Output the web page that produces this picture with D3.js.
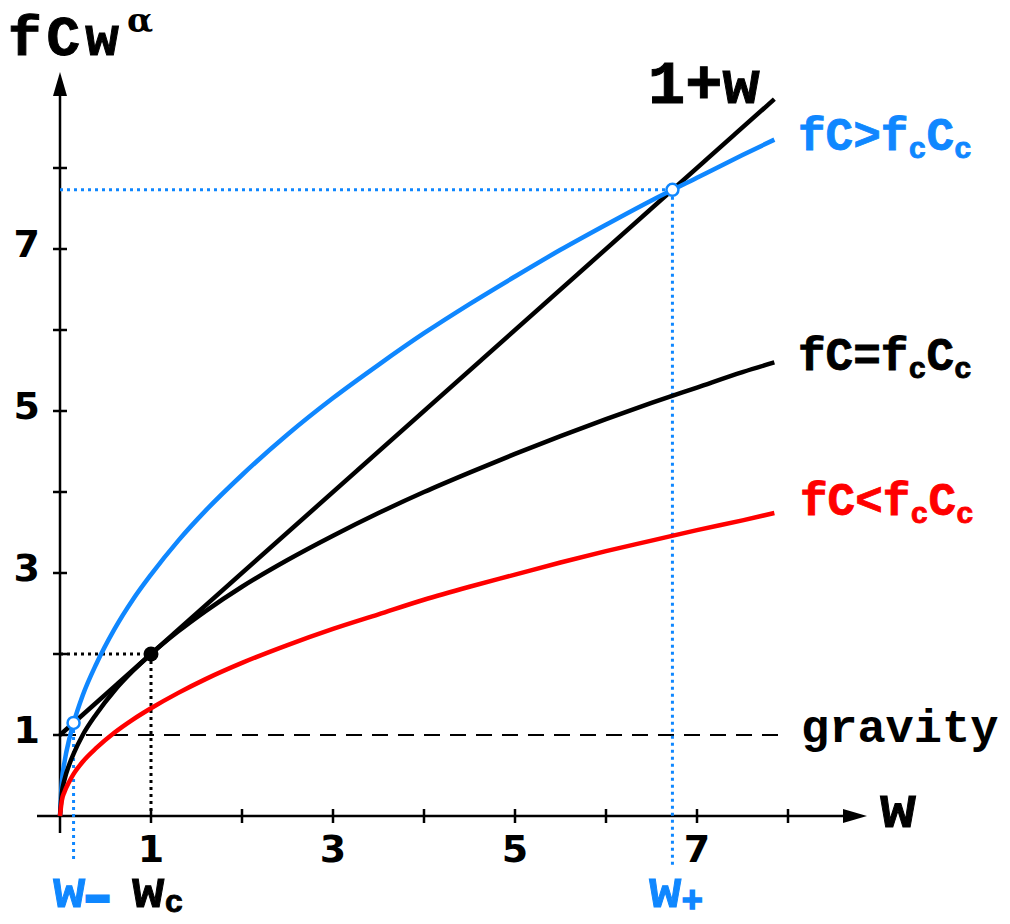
<!DOCTYPE html>
<html>
<head>
<meta charset="utf-8">
<script src="https://cdn.jsdelivr.net/npm/d3@7"></script>
<style>
  html, body { margin: 0; padding: 0; background: #fff; }
  svg { display: block; }
  .mono { font-family: "Liberation Mono", "Courier New", monospace; font-weight: bold; }
  .tick-label { font-family: "DejaVu Sans", sans-serif; font-size: 38px; font-weight: bold; }
</style>
</head>
<body>
<div id="chart"></div>
<script>
// values
const wSamples   = [0, 0.02, 0.05, 0.1, 0.15, 0.25, 0.4, 0.6, 0.8, 1, 1.3, 1.6, 2, 2.5, 3, 3.5, 4, 4.5, 5, 5.5, 6, 6.5, 7, 7.5, 7.85];
const blueCurve  = [0, 0.42, 0.67, 0.94, 1.15, 1.49, 1.88, 2.31, 2.67, 2.98, 3.40, 3.77, 4.21, 4.71, 5.16, 5.57, 5.96, 6.32, 6.66, 6.99, 7.30, 7.60, 7.88, 8.16, 8.35];
const blackCurve = [0, 0.28, 0.45, 0.63, 0.77, 1.00, 1.26, 1.55, 1.79, 2.00, 2.28, 2.53, 2.83, 3.16, 3.46, 3.74, 4.00, 4.24, 4.47, 4.69, 4.90, 5.10, 5.29, 5.48, 5.60];
const redCurve   = [0, 0.19, 0.30, 0.42, 0.52, 0.67, 0.84, 1.03, 1.19, 1.33, 1.52, 1.69, 1.89, 2.11, 2.31, 2.49, 2.67, 2.83, 2.98, 3.13, 3.27, 3.40, 3.53, 3.65, 3.74];
const lineW      = [0, 7.85];
const lineVals   = [1, 8.85];          // 1 + w
const gravityW   = [0, 8.0];
const gravityVal = 1;
const xTicks = [1, 2, 3, 4, 5, 6, 7, 8];
const yTicks = [1, 2, 3, 4, 5, 6, 7, 8];
const xTickLabels = [1, 3, 5, 7];
const yTickLabels = [1, 3, 5, 7];
const wMinus = 0.149, vMinus = 1.149;
const wPlus = 6.73, vPlus = 7.73;
const wC = 1, vC = 2;

const BLUE = '#0f87ff';
const RED = '#ff0000';

const width = 1010, height = 924;
const svg = d3.select('#chart').append('svg')
  .attr('width', width).attr('height', height);

const x = d3.scaleLinear().domain([0, 8]).range([60, 788]);
const y = d3.scaleLinear().domain([0, 8]).range([816, 168]);

// axes
const axisG = svg.append('g').attr('stroke', '#000').attr('stroke-width', 2.5);
axisG.append('line').attr('x1', 37).attr('x2', 848).attr('y1', y(0)).attr('y2', y(0));
axisG.append('line').attr('x1', x(0)).attr('x2', x(0)).attr('y1', 833).attr('y2', 92);
svg.append('path')
  .attr('d', `M${x(0)},72 L${x(0) - 7},96 L${x(0) + 7},96 Z`).attr('fill', '#000');
svg.append('path')
  .attr('d', `M867,${y(0)} L843,${y(0) - 7} L843,${y(0) + 7} Z`).attr('fill', '#000');

axisG.selectAll('.xt').data(xTicks).join('line')
  .attr('x1', d => x(d)).attr('x2', d => x(d))
  .attr('y1', y(0) - 7).attr('y2', y(0) + 7);
axisG.selectAll('.yt').data(yTicks).join('line')
  .attr('y1', d => y(d)).attr('y2', d => y(d))
  .attr('x1', x(0) - 7).attr('x2', x(0) + 7);

svg.selectAll('.xl').data(xTickLabels).join('text')
  .attr('class', 'tick-label')
  .attr('x', d => x(d)).attr('y', 862)
  .attr('text-anchor', 'middle')
  .text(d => d);
svg.selectAll('.yl').data(yTickLabels).join('text')
  .attr('class', 'tick-label')
  .attr('x', 40).attr('y', d => y(d) + 8)
  .attr('text-anchor', 'end')
  .text(d => d);

// gravity line
svg.append('line')
  .attr('x1', x(gravityW[0])).attr('x2', x(gravityW[1]))
  .attr('y1', y(gravityVal)).attr('y2', y(gravityVal))
  .attr('stroke', '#000').attr('stroke-width', 2)
  .attr('stroke-dasharray', '16,10');

// guide lines
const dot = (x1, y1, x2, y2, color) => svg.append('line')
  .attr('x1', x1).attr('y1', y1).attr('x2', x2).attr('y2', y2)
  .attr('stroke', color).attr('stroke-width', 3)
  .attr('stroke-dasharray', '3,4');
dot(x(0), y(vC), x(wC), y(vC), '#000');
dot(x(wC), y(vC), x(wC), y(0), '#000');
dot(x(0), y(vPlus), x(wPlus), y(vPlus), BLUE);
dot(x(wPlus), y(vPlus), x(wPlus), 865, BLUE);
dot(x(wMinus), y(vMinus), x(wMinus), 863, BLUE);

// curves
const line = d3.line().x(d => x(d[0])).y(d => y(d[1])).curve(d3.curveMonotoneX);
const draw = (xs, ys, color) => svg.append('path')
  .datum(xs.map((w, i) => [w, ys[i]]))
  .attr('d', line)
  .attr('fill', 'none')
  .attr('stroke', color)
  .attr('stroke-width', 4.5)
  .attr('stroke-linecap', 'butt');

draw(lineW, lineVals, '#000');
draw(wSamples, blueCurve, BLUE);
draw(wSamples, blackCurve, '#000');
draw(wSamples, redCurve, RED);

// markers
svg.append('circle').attr('cx', x(wC)).attr('cy', y(vC)).attr('r', 7.5).attr('fill', '#000');
[[wMinus, vMinus], [wPlus, vPlus]].forEach(p => {
  svg.append('circle').attr('cx', x(p[0])).attr('cy', y(p[1])).attr('r', 6)
    .attr('fill', '#fff').attr('stroke', BLUE).attr('stroke-width', 2.5);
});

// labels
function label(px, py, parts, color, size) {
  const t = svg.append('text').attr('class', 'mono')
    .attr('x', px).attr('y', py).attr('fill', color).attr('font-size', size);
  parts.forEach(p => {
    const s = t.append('tspan').text(p.t);
    if (p.sub) s.attr('font-size', p.size || size * 0.7).attr('dy', p.dy);
    if (p.back) s.attr('dy', p.back);
    if (p.ls) s.attr('letter-spacing', p.ls);
    if (p.stroke) s.attr('stroke', color).attr('stroke-width', p.stroke);
  });
  return t;
}

label(8, 55, [{ t: 'fCw', ls: 5, stroke: 1 }], '#000', 56);
svg.append('text').attr('x', 127).attr('y', 32)
  .attr('font-family', 'DejaVu Serif, serif').attr('font-weight', 'bold')
  .attr('font-size', 34).text('α');

label(648, 103, [{ t: '1+w', stroke: 1 }], '#000', 62);
const subs = (op) => [{ t: 'fC' + op + 'f', stroke: 0.8 }, { t: 'c', sub: true, size: 30, dy: 8, stroke: 0.8 }, { t: 'C', back: -8, stroke: 0.8 }, { t: 'c', sub: true, size: 30, dy: 8, stroke: 0.8 }];
label(798, 150, subs('>'), BLUE, 46);
label(798, 370, subs('='), '#000', 46);
label(800, 515, subs('<'), RED, 46);
label(801, 742, [{ t: 'gravity' }], '#000', 47);
label(880, 827, [{ t: 'w', stroke: 1 }], '#000', 60);

label(53, 907, [{ t: 'w', stroke: 1 }, { t: '−', sub: true, size: 40, dy: 5, stroke: 4 }], BLUE, 54);
label(132, 907, [{ t: 'w', stroke: 1 }, { t: 'c', sub: true, size: 32, dy: 5, stroke: 0.8 }], '#000', 54);
label(649, 907, [{ t: 'w', stroke: 1 }, { t: '+', sub: true, size: 36, dy: 5, stroke: 1.5 }], BLUE, 54);
</script>
</body>
</html>
